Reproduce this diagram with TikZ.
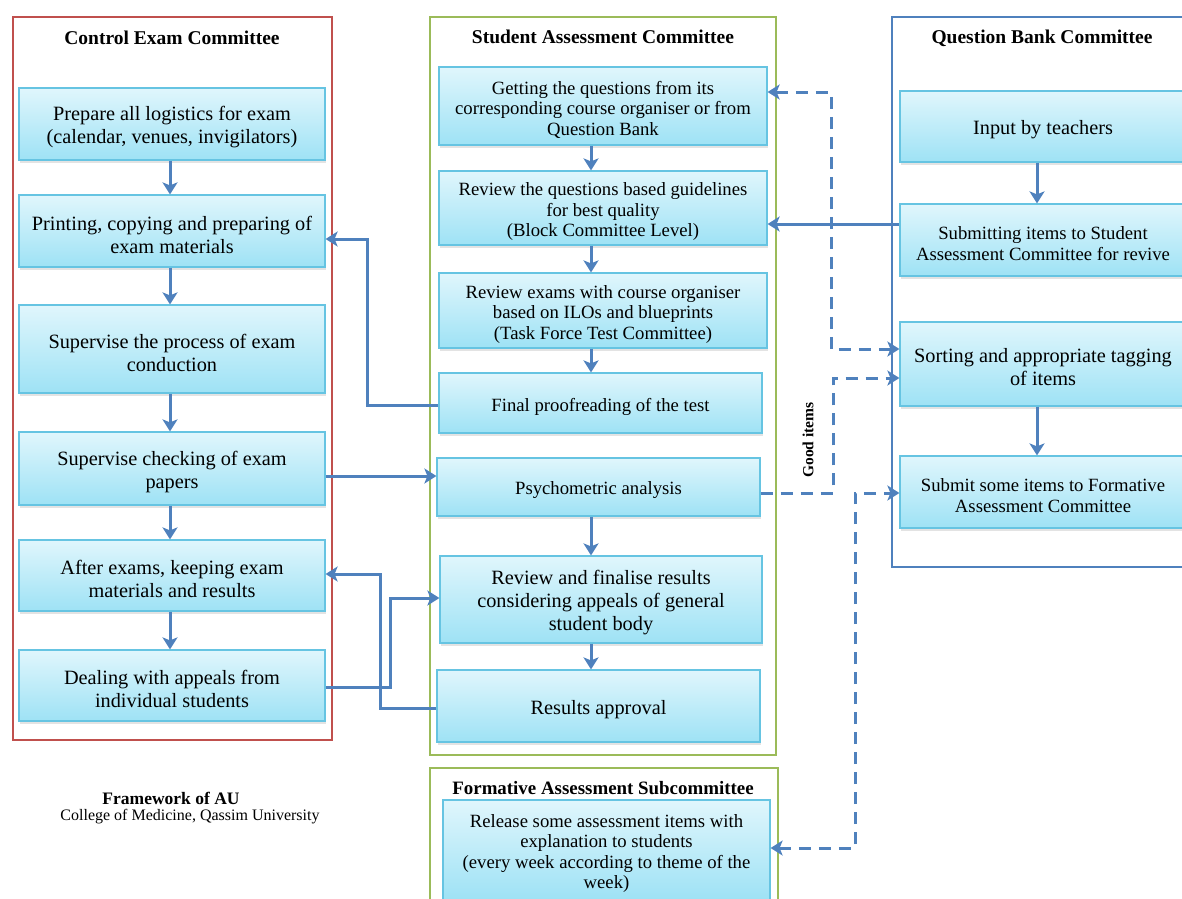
\documentclass[tikz,border=0pt]{standalone}
\usepackage{fontspec}
\setmainfont{Liberation Serif}
\usetikzlibrary{arrows.meta,shadows,calc}
\definecolor{arrowblue}{RGB}{79,129,189}
\definecolor{cred}{RGB}{192,80,77}
\definecolor{cgreen}{RGB}{155,187,89}
\definecolor{cblue}{RGB}{79,129,189}
\definecolor{boxtop}{RGB}{224,246,252}
\definecolor{boxbot}{RGB}{158,226,245}
\definecolor{boxline}{RGB}{102,196,226}
\newcommand\szL{\fontsize{20.3}{23}\selectfont}
\newcommand\szS{\fontsize{18.7}{20.5}\selectfont}
\newcommand\szT{\fontsize{19.5}{22}\selectfont\bfseries}
% \mybox{name}{x,y}{width}{height}{font}{text}
\newcommand\mybox[6]{%
  \node[box,minimum width=#3pt,minimum height=#4pt] (#1) at (#2) {};
  \node[boxtext,font=#5] (#1t) at ([yshift=-3.5pt]#1.center) {#6};}
\begin{document}
\begin{tikzpicture}[x=1pt,y=-1pt,
 >={Stealth[length=12pt,width=15pt,inset=3pt]},
 box/.style={draw=boxline, line width=1.2pt, top color=boxtop, bottom color=boxbot, inner sep=0pt,
   drop shadow={shadow xshift=1pt,shadow yshift=-2.5pt,opacity=0.22}},
 boxtext/.style={align=center, inner sep=0pt},
 frame/.style={line width=2.6pt},
 flow/.style={draw=arrowblue, line width=3pt, ->},
 dashflow/.style={flow, dash pattern=on 12pt off 8pt},
 title/.style={font=\szT, inner sep=0pt},
]
\useasboundingbox (0,0) rectangle (1182,898);
\clip (0,0) rectangle (1182,898);

% containers
\draw[frame, draw=cred] (13,17) rectangle (332,740);
\draw[frame, draw=cgreen] (430,17) rectangle (776,755);
\draw[frame, draw=cblue] (892,17) rectangle (1230,567);
\draw[frame, draw=cgreen] (430,768) rectangle (778,930);

% titles
\node[title] (t1) at (172,38) {Control Exam Committee};
\node[title] (t2) at (603,37) {Student Assessment Committee};
\node[title] (t3) at (1042,38) {Question Bank Committee};
\node[title, font=\fontsize{18.9}{22}\selectfont\bfseries] (t4) at (603,788) {Formative Assessment Subcommittee};

% left column
\mybox{prep}{172,124}{306}{72}{\szL}{Prepare all logistics for exam\\(calendar, venues, invigilators)}
\mybox{print}{172,231}{306}{72}{\szL}{Printing, copying and preparing of\\exam materials}
\mybox{superv}{172,349}{306}{88}{\szL}{Supervise the process of exam\\conduction}
\mybox{check}{172,468.5}{306}{73}{\szL}{Supervise checking of exam\\papers}
\mybox{after}{172,575.5}{306}{71}{\szL}{After exams, keeping exam\\materials and results}
\mybox{deal}{172,685.5}{306}{71}{\szL}{Dealing with appeals from\\individual students}

% middle column
\mybox{get}{603,106}{328}{78}{\szS}{Getting the questions from its\\corresponding course organiser or from\\Question Bank}
\mybox{revq}{603,208}{328}{74}{\szS}{Review the questions based guidelines\\for best quality\\(Block Committee Level)}
\mybox{reve}{603,310.5}{328}{75}{\szS}{Review exams with course organiser\\based on ILOs and blueprints\\(Task Force Test Committee)}
\mybox{final}{600.5,403}{323}{60}{\szS}{Final proofreading of the test}
\mybox{psy}{598.5,487}{323}{58}{\szS}{Psychometric analysis}
\mybox{revf}{601,599.5}{322}{87}{\szL}{Review and finalise results\\considering appeals of general\\student body}
\mybox{appr}{598.5,706}{323}{72}{\szL}{Results approval}

% right column
\mybox{input}{1043,126.5}{286}{71}{\szL}{Input by teachers}
\mybox{subm}{1043,240}{286}{72}{\szS}{Submitting items to Student\\Assessment Committee for revive}
\mybox{sort}{1043,364}{286}{84}{\szL}{Sorting and appropriate tagging\\of items}
\mybox{subf}{1043,492}{286}{72}{\szS}{Submit some items to Formative\\Assessment Committee}

% formative
\mybox{rel}{606.5,850}{327}{100}{\szS}{Release some assessment items with\\explanation to students\\(every week according to theme of the\\week)}

% footer text
\node[font=\bfseries\fontsize{17.5}{20}\selectfont, inner sep=0pt] (fw) at (171,798) {Framework of AU};
\node[font=\fontsize{16}{19}\selectfont, inner sep=0pt] (cm) at (190,817) {College of Medicine, Qassim University};

\node[rotate=90, font=\bfseries\fontsize{15.5}{17}\selectfont, inner sep=0pt] (good) at (808,440) {Good items};

% vertical flows
\draw[flow] (prep.south -| 170,0) -- (print.north -| 170,0);
\draw[flow] (print.south -| 170,0) -- (superv.north -| 170,0);
\draw[flow] (superv.south -| 170,0) -- (check.north -| 170,0);
\draw[flow] (check.south -| 170,0) -- (after.north -| 170,0);
\draw[flow] (after.south -| 170,0) -- (deal.north -| 170,0);

\draw[flow] (get.south -| 591,0) -- (revq.north -| 591,0);
\draw[flow] (revq.south -| 591,0) -- (reve.north -| 591,0);
\draw[flow] (reve.south -| 591,0) -- (final.north -| 591,0);
\draw[flow] (psy.south -| 591,0) -- (revf.north -| 591,0);
\draw[flow] (revf.south -| 591,0) -- (appr.north -| 591,0);

\draw[flow] (input.south -| 1037,0) -- (subm.north -| 1037,0);
\draw[flow] (sort.south -| 1037,0) -- (subf.north -| 1037,0);

% cross flows
\draw[flow] (subm.west |- 0,224) -- (revq.east |- 0,224);
\draw[flow] (final.west |- 0,405) -| (367,239) -- (print.east |- 0,239);
\draw[flow] (check.east |- 0,476) -- (psy.west |- 0,476);
\draw[flow] (appr.west |- 0,708) -| (380,574) -- (after.east |- 0,574);
\draw[flow] (deal.east |- 0,687) -| (390,598) -- (revf.west |- 0,598);

% dashed flows
\coordinate (fork) at (855,493);
\draw[dashflow,<->] (get.east |- 0,92) -| (831,349) -- (sort.west |- 0,349);
\draw[dashflow] (psy.east |- 0,493) -| (833,378) -- (sort.west |- 0,378);
\draw[dashflow,<->] (rel.east |- 0,848) -| (fork) -- (subf.west |- 0,493);
\end{tikzpicture}
\end{document}
